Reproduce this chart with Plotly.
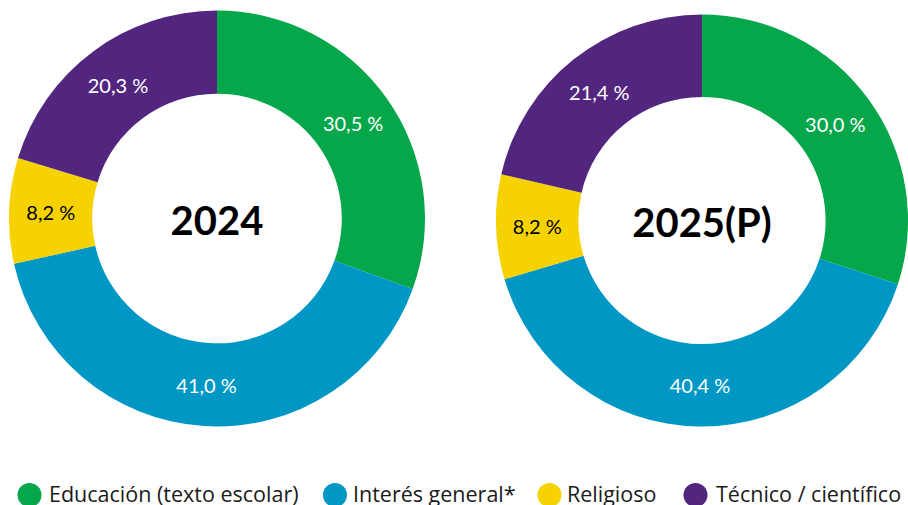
import plotly.graph_objects as go

# ---- data ----
categories = ["Educación (texto escolar)", "Interés general*", "Religioso", "Técnico / científico"]
values_2024 = [30.5, 41.0, 8.2, 20.3]
values_2025 = [30.0, 40.4, 8.2, 21.4]
years = ["2024", "2025(P)"]

colors = ["#06A64A", "#0097C4", "#F6D200", "#52267F"]
text_colors = ["white", "white", "black", "white"]

W, H = 908, 505
FONT = "Lato"
LEG_FONT = "Open Sans"

def pie(vals, title, dx, dy):
    return go.Pie(
        labels=categories,
        values=vals,
        sort=False,
        direction="clockwise",
        rotation=0,
        hole=0.6,
        marker=dict(colors=colors, line=dict(width=0)),
        texttemplate="%{value:.1f} %",
        textposition="inside",
        insidetextorientation="horizontal",
        textfont=dict(family=FONT, size=20, color=text_colors),
        hoverinfo="label+value",
        showlegend=False,
        title=dict(text="<b>" + title + "</b>", position="middle center",
                   font=dict(family=FONT, size=40, color="black")),
        domain=dict(x=dx, y=dy),
    )

fig = go.Figure()
# left donut: center (217, 218.5) px, radius 208
fig.add_trace(pie(values_2024, years[0], [9 / W, 425 / W], [78.5 / H, 494.5 / H]))
# right donut: center (702, 220.5) px, radius 206
fig.add_trace(pie(values_2025, years[1], [496 / W, 908 / W], [78.5 / H, 490.5 / H]))

# ---- custom legend (circle markers + text) ----
leg_circle_x = [29.5, 335, 549.5, 695.5]
leg_text_x = [47, 351, 565, 714]
leg_y = 495
r = 12
shapes = []
annotations = []
for cat, col, cx, tx in zip(categories, colors, leg_circle_x, leg_text_x):
    shapes.append(dict(type="circle", xref="paper", yref="paper",
                       x0=(cx - r) / W, x1=(cx + r) / W,
                       y0=(H - leg_y - r) / H, y1=(H - leg_y + r) / H,
                       fillcolor=col, line=dict(width=0)))
    annotations.append(dict(text=cat, xref="paper", yref="paper",
                            x=tx / W, y=(H - leg_y + 2) / H,
                            xanchor="left", yanchor="middle", showarrow=False,
                            font=dict(family=LEG_FONT, size=21.5, color="#1a1a1a")))

fig.update_layout(
    width=W, height=H,
    margin=dict(l=0, r=0, t=0, b=0),
    paper_bgcolor="white",
    plot_bgcolor="white",
    separators=",.",
    shapes=shapes,
    annotations=annotations,
    showlegend=False,
)

fig.write_html("out.html",
               config={"displayModeBar": False},
               post_script="document.body.style.margin='0px';document.body.style.overflow='hidden';")
